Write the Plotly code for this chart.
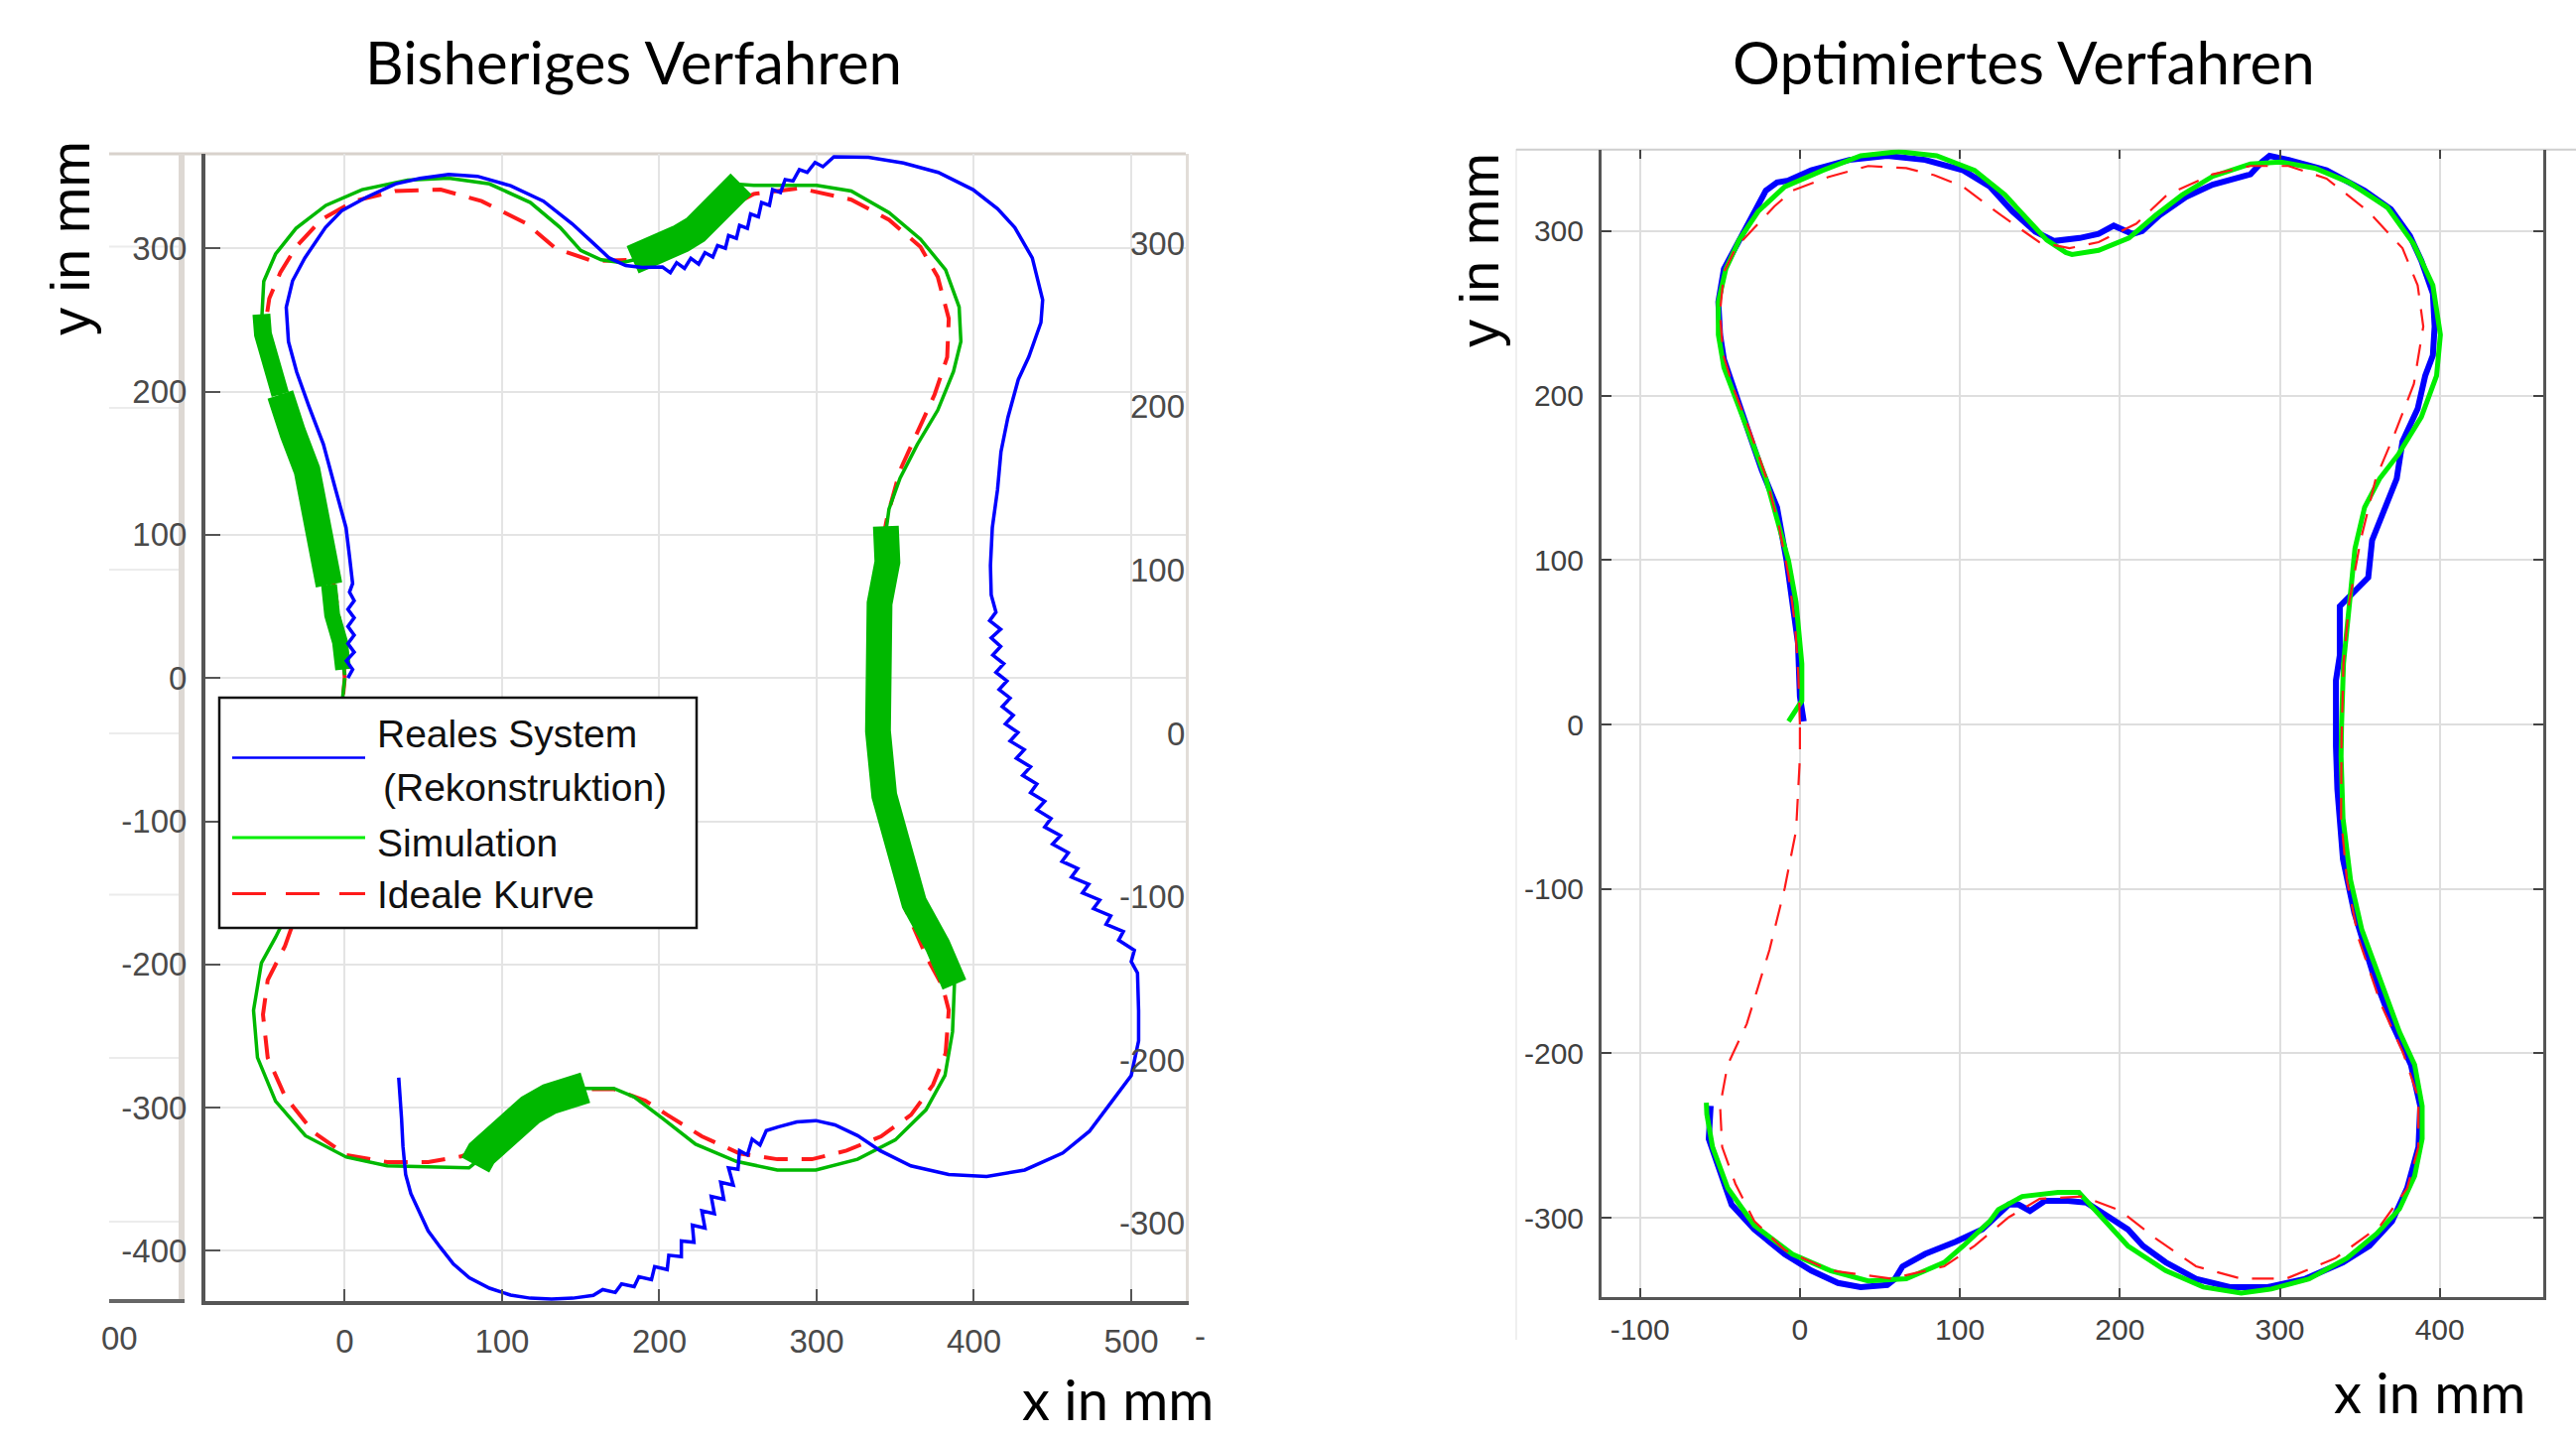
import plotly.graph_objects as go

W, H = 2596, 1450

# ---------------- data (mm) ----------------
# left panel: "Bisheriges Verfahren"
IDEAL_L = [(0,0),(-2,30),(-6,60),(-12,90),(-20,120),(-30,150),(-40,180),(-47,205),(-50,230),(-50,250),(-48,265),
           (-41,283),(-31,301),(-15,320),(6,333),(32,340),(61,341),(87,333),(116,317),(134,300),(158,291),(181,292),
           (200,297),(220,310),(240,326),(260,338),(289,342),(322,334),(346,320),(366,301),(377,280),(384,251),
           (383,224),(375,198),(364,171),(353,145),(345,113),(339,80),(336,40),(335,0),(336,-40),(340,-80),
           (346,-120),(356,-160),(370,-195),(380,-215),(384,-232),(382,-262),(374,-284),(360,-305),(341,-320),
           (319,-330),(297,-336),(275,-336),(251,-332),(227,-320),(205,-305),(191,-295),(171,-287),(152,-287),
           (130,-300),(100,-322),(74,-334),(53,-338),(27,-338),(1,-333),(-20,-317),(-38,-292),(-49,-265),
           (-52,-235),(-49,-211),(-38,-187),(-26,-150),(-16,-110),(-8,-70),(-3,-35),(0,0)]

SIM_L = [(0,2),(-3,25),(-8,44),(-10,65),(-14,92),(-18,118),(-24,145),(-33,171),(-41,198),(-50,224),(-53,246),
         (-52,262),(-51.5,277),(-44,296),(-31,314),(-12,330),(11,341),(40,347.6),(66,349),(92,345),(118,332),
         (137,314.5),(150,298.5),(163,292),(176,290),(184,292),(205,301),(223,313),(241,330),(247,345),(260,344),
         (278,344),(300,344),(322,340),(346,325),(366,306.5),(382,285),(390.6,259),(391.7,235),(387,214),(377,187),
         (364,163),(353,139.5),(346,118),(344,102),(345,81),(340,52),(338.6,25),(338.6,-1),(339,-37),(343,-82),
         (351,-121),(362,-157),(377,-187),(387.6,-214),(386.4,-247),(381.6,-277.5),(369.5,-301.5),(350,-322.5),
         (326,-336),(299.5,-343.5),(275,-343.5),(249,-337.5),(223,-325.5),(202,-307.5),(184,-292.5),(171,-286.5),
         (152,-286.5),(142,-288),(118,-301.5),(95,-322.5),(84,-337.5),(79,-342),(53,-341),(27,-340.6),(1,-334.5),
         (-25,-319.6),(-44,-295.5),(-55.5,-265),(-58,-232),(-53,-199),(-44,-181),(-30,-150),(-15,-100),(-5,-50),(0,0)]

# strongly oscillating stretches of the simulation (appear as thick bands)
SIM_L_BANDS = [
    [(-1,6),(-3,25),(-8,44),(-10,65)],
    [(-10,65),(-14,92),(-18,118),(-24,145),(-33,171),(-41,198)],
    [(-41,198),(-49,222),(-52,240),(-53,254)],
    [(183,292),(195,296),(205,301),(214,307),(223,313),(232,321),(241,331),(247,341),(252,345)],
    [(344,106),(345,81),(340,52),(338.6,25),(338.6,-1),(339,-37),(343,-82),(351,-121),(362,-157),(377,-187),(387.6,-214)],
    [(153,-286),(142,-288),(130,-294),(118,-301.5),(106,-311),(95,-322.5),(87,-332),(83,-340)],
]
SIM_L_BAND_WIDTHS = [16, 27, 18, 30, 26, 32]

REAL_L = [(2,0),(5,6),(1,12),(6,18),(2,24),(6,30),(2,36),(6,42),(2,48),(6,54),(3,60),(5,66),
          (3,85),(0.8,105),(-5.8,131.5),(-13.6,163.3),(-22.8,189.8),(-30.6,213.7),(-35.8,234.9),(-37.2,258.8),
          (-33.2,277.3),(-25.4,293.3),(-12.3,314.5),(-1.8,326.4),(13.8,335.7),(32.1,345),(47.8,348.9),(66.1,351.6),
          (84.4,350.3),(105.4,343.7),(126.3,333),(144.6,317.1),(157.7,303.9),(168.1,293.3),(178.6,288),(189,286.6),
          (202,287),(207,283),(211,290),(216,286),(220,293),(225,289),(229,297),(234,294),(237,302),(242,300),
          (244,309),(249,307),(251,316),(256,314),(258,324),(263,322),(265,332),(270,330),(272,341),(277,339),
          (280,348),(285,347),(289,355),(294,353),(299,360),(304,357),(311,364),
          (333,363.5),(355.2,359.6),(377.3,353),(399.4,341),(415,327.7),(426,314.5),(437.1,293.3),(443.7,264.1),
          (442.6,248.2),(434.9,224.3),(428.2,208.4),(421.6,181.9),(417.2,158),(415,131.5),(411.7,105),(410.5,78.4),
          (411,58),(414,46),(410,40),(417,34),(411,28),(417,22),(412,16),(419,10),(414,4),(421,-2),(416,-8),
          (423,-14),(418,-20),(425,-26),(420,-32),(428,-38),(423,-44),(432,-50),(427,-56),(436,-62),(431,-68),
          (440,-74),(436,-80),(445,-86),(440,-92),(449,-98),(445,-104),(455,-110),(450,-116),(460,-122),(456,-128),
          (466,-133),(462,-139),(473,-144),(469,-150),(480,-155),(476,-161),(487,-166),(484,-172),(495,-177),
          (492,-183),(502,-190),(500,-198),(504,-206),
          (504.7,-232.4),(504.7,-253.4),(500,-277.5),(487.8,-295.5),(473.4,-316.5),(456.5,-331.6),(432.3,-343.5),
          (408.1,-348.1),(384,-346.6),(359.9,-340.6),(340.6,-330.1),(326.1,-319.5),(311.6,-312),(299.5,-309),
          (287.4,-310),(275.4,-313.5),
          (268,-316),(264,-326),(259,-322),(256,-333),(251,-330),(250,-343),(244,-342),(247,-354),(239,-352),
          (241,-364),(233,-362),(235,-374),(227,-372),(229,-384),(221,-382),(222,-394),(214,-393),(214,-404),
          (206,-403),(205,-413),(197,-411),(195,-420),(187,-418),(184,-425),(176,-423),(172,-429),(164,-427),
          (158,-431),
          (145,-433),(131.5,-433.7),(118,-433),(105.4,-430.8),(92,-426),(79.2,-418.7),(69,-409),(60.9,-397.7),
          (53,-386),(47.8,-373.7),(42,-360),(38.7,-346.6),(37,-327),(36.1,-307.5),(34.3,-279)]

# right panel: "Optimiertes Verfahren"
IDEAL_R = [(0,0),(-1,30),(-3,60),(-7,90),(-13,120),(-21,150),(-31,178),(-41,203),(-48,225),(-50,250),(-47.5,275),
           (-40,290),(-28.5,302),(-16,315),(-4.8,324.6),(18,333),(42.7,339.6),(66.5,338.3),(84,334),(102,327),
           (125.8,309.6),(149.6,293.3),(168.5,289.6),(186.7,293.3),(210.4,304.6),(229.5,322),(258,334.6),
           (281.7,339.6),(305.4,339.6),(329.2,332),(355.3,312),(376.7,289.6),(386.2,267),(389.7,242),(383.8,207),
           (371.9,177),(360,149.5),(350.5,112),(343.4,74.4),(339.8,36.9),(338.6,-10),(338.3,-57),(341.9,-94.4),
           (349,-129.5),(363,-169.5),(377,-199.5),(386.6,-227),(386.6,-257),(379.6,-282),(363,-304.6),
           (334.8,-324.6),(304,-337),(275.9,-337),(247.6,-329.5),(221.6,-312),(200.4,-295.7),(176.8,-287),
           (150,-288.4),(130.6,-299.6),(109.2,-317),(90.2,-329.5),(57,-337),(19,-332),(-9.5,-319.6),(-28.5,-302),
           (-40.3,-279.4),(-48.6,-257),(-49.9,-232),(-45.2,-207),(-33.2,-182),(-19,-137),(-9.5,-99.5),
           (-2.4,-64.5),(0,-20),(0,0)]

SIM_R = [(-7.1,1.9),(1.2,14.4),(1.2,36.9),(-2.4,74.4),(-7.1,99.5),(-14.3,124.4),(-21.3,149.5),(-30.9,174.5),
         (-40.3,199.5),(-47.5,217),(-51,237),(-51,257),(-46.3,277),(-38,294.6),(-26.1,312),(-9.5,327),(14.3,337),
         (38,345.8),(61.7,348.3),(85.5,345.8),(109.2,337),(128.2,322),(142.4,307),(154.3,294.6),(166.2,287),
         (170.1,285.8),(186.7,288.3),(205.7,295.8),(222.3,309.6),(239,322),(258,333.3),(281.7,340.9),(300.7,342),
         (322,338.3),(343.4,329.6),(367.2,314.5),(383.8,292),(395.7,267),(400.4,237),(398,212),(388.5,187),
         (374.3,164.5),(362.4,149.5),(353,132),(347,107),(343.4,74.4),(339.8,36.9),(338.6,-0.6),(338.3,-19.4),
         (339.5,-57),(344.2,-94.4),(351.2,-124.5),(363.1,-157),(374.8,-187),(384.3,-207),(389,-232),(389,-252),
         (384.3,-274.6),(374.8,-294.6),(360.7,-309.6),(341.9,-324.6),(318.3,-337.1),(294.7,-343.3),(275.9,-345.8),
         (252.2,-342.1),(228.6,-332.1),(205.1,-317.1),(186.2,-297.1),(174.4,-284.6),(161.4,-284.6),(139,-287),
         (124,-295),(118.7,-302.1),(102.1,-317.1),(90.2,-327.1),(66.5,-337.1),(42.7,-338.4),(19,-332.1),
         (-4.7,-322.1),(-28.5,-304.6),(-45.1,-282),(-54.6,-257),(-58.2,-237),(-58.5,-230)]

REAL_R = [(2.4,1.9),(0,16.9),(-1.2,49.4),(-4.7,74.4),(-8.3,99.5),(-14.3,132),(-23.8,154.5),(-30.9,174.5),
          (-40.3,202),(-47.5,222),(-49.9,237),(-51,257),(-47.5,277),(-38,294.6),(-28.5,312),(-21.3,324.6),
          (-14.3,329.6),(-7.1,330.8),(7.1,337),(30.9,343.3),(54.6,345.8),(78.3,343.3),(102.1,337),(118.7,327.1),
          (132.9,312),(147.2,299.6),(159,294),(174.9,295.8),(186.7,298.3),(196.2,303.3),(208,298.3),(214,300),
          (224.7,309.6),(241.3,320.8),(258,328.3),(281.7,334.6),(288.8,342),(293.6,345.8),(305.5,343.3),
          (329.2,337),(352.9,324.6),(369.5,313.3),(381.4,297),(388.5,282),(395.7,262),(396.8,242),(395.7,224.5),
          (390.9,212),(386.2,192),(376.7,172),(373.1,149.5),(364.8,129.5),(357.7,112),(355.3,89.4),(345.8,79.4),
          (337.5,71.9),(337.5,41.9),(335.1,26.9),(335.1,-13.2),(336,-39.4),(339.5,-82),(346.6,-114.5),
          (358.4,-152),(370.2,-182),(382,-207),(387.8,-232),(386.7,-257),(379.6,-282),(370.2,-302.1),(356,-317.1),
          (339.5,-327.1),(316,-337.1),(292.4,-342.1),(268.8,-342.1),(247.6,-337.1),(228.7,-327.1),(214.5,-317.1),
          (205.1,-307.1),(193.3,-299.6),(179.2,-290.8),(167.4,-289.6),(153.2,-289.6),(143.8,-295.8),(136.7,-292),
          (130.6,-292),(114,-307),(97.3,-314.6),(78.3,-322),(64.1,-329.6),(59.4,-337.1),(54.6,-340.8),(38,-342.1),
          (23.8,-339.6),(7.1,-332.1),(-9.5,-322.1),(-28.5,-307.1),(-42.7,-292),(-52.2,-267),(-57,-252),(-55.8,-232)]

X_TICKS_L = [0, 100, 200, 300, 400, 500]
Y_TICKS_L = [-400, -300, -200, -100, 0, 100, 200, 300]
Y_TICKS_L2 = [-300, -200, -100, 0, 100, 200, 300]
X_TICKS_R = [-100, 0, 100, 200, 300, 400]
Y_TICKS_R = [-300, -200, -100, 0, 100, 200, 300]

LEGEND_NAMES = ["Reales System", "(Rekonstruktion)", "Simulation", "Ideale Kurve"]
TITLES = ["Bisheriges Verfahren", "Optimiertes Verfahren"]

BLUE = "#0000ff"
GREEN_L = "#00b800"
GREEN_R = "#00ee00"
RED = "#ff1a1a"


def xs(pts):
    return [p[0] for p in pts]


def ys(pts):
    return [p[1] for p in pts]


def lab(vals):
    return [str(v) for v in vals]   # plain hyphen-minus like the reference


def px(x):
    return x / W


def py(y):
    return 1 - y / H


fig = go.Figure()

# left panel traces
fig.add_trace(go.Scatter(x=xs(IDEAL_L), y=ys(IDEAL_L), mode="lines", xaxis="x", yaxis="y",
                         line=dict(color=RED, width=4, dash="24px,14px"), showlegend=False, hoverinfo="skip"))
fig.add_trace(go.Scatter(x=xs(SIM_L), y=ys(SIM_L), mode="lines", xaxis="x", yaxis="y",
                         line=dict(color=GREEN_L, width=3.5), showlegend=False, hoverinfo="skip"))
for band, wdt in zip(SIM_L_BANDS, SIM_L_BAND_WIDTHS):
    fig.add_trace(go.Scatter(x=xs(band), y=ys(band), mode="lines", xaxis="x", yaxis="y",
                             line=dict(color=GREEN_L, width=wdt), showlegend=False, hoverinfo="skip"))
fig.add_trace(go.Scatter(x=xs(REAL_L), y=ys(REAL_L), mode="lines", xaxis="x", yaxis="y",
                         line=dict(color=BLUE, width=3.5), showlegend=False, hoverinfo="skip"))
# invisible anchor so the secondary (right-hand) axis of the left panel exists
fig.add_trace(go.Scatter(x=[0], y=[0], mode="markers", xaxis="x", yaxis="y2",
                         marker=dict(opacity=0, size=1), showlegend=False, hoverinfo="skip"))

# right panel traces
fig.add_trace(go.Scatter(x=xs(REAL_R), y=ys(REAL_R), mode="lines", xaxis="x3", yaxis="y3",
                         line=dict(color=BLUE, width=6), showlegend=False, hoverinfo="skip"))
fig.add_trace(go.Scatter(x=xs(SIM_R), y=ys(SIM_R), mode="lines", xaxis="x3", yaxis="y3",
                         line=dict(color=GREEN_R, width=5), showlegend=False, hoverinfo="skip"))
fig.add_trace(go.Scatter(x=xs(IDEAL_R), y=ys(IDEAL_R), mode="lines", xaxis="x3", yaxis="y3",
                         line=dict(color=RED, width=2.2, dash="22px,14px"), showlegend=False, hoverinfo="skip"))
fig.add_trace(go.Scatter(x=[0], y=[0], mode="markers", xaxis="x4", yaxis="y3",
                         marker=dict(opacity=0, size=1), showlegend=False, hoverinfo="skip"))

tickfont_l = dict(family="Liberation Sans, Arial, sans-serif", size=33, color="#4a4a4a")
tickfont_r = dict(family="Liberation Sans, Arial, sans-serif", size=30, color="#404040")

fig.update_layout(
    width=W, height=H, autosize=False,
    margin=dict(l=0, r=0, t=0, b=0, pad=0),
    paper_bgcolor="white", plot_bgcolor="white",
    xaxis=dict(domain=[px(207), px(1195)], range=[-88.6, 534.7], anchor="y",
               tickvals=X_TICKS_L, ticktext=lab(X_TICKS_L), ticks="inside", ticklen=12, tickwidth=2,
               tickcolor="#555", showline=True, linecolor="#555", linewidth=4, mirror=False,
               showgrid=True, gridcolor="#e4e4e4", gridwidth=2, zeroline=False,
               tickfont=tickfont_l, ticklabelstandoff=8),
    yaxis=dict(domain=[py(1311), py(155)], range=[-435, 366], anchor="x",
               tickvals=Y_TICKS_L, ticktext=lab(Y_TICKS_L), ticks="inside", ticklen=15, tickwidth=2,
               tickcolor="#555", showline=True, linecolor="#555", linewidth=4,
               showgrid=True, gridcolor="#e4e4e4", gridwidth=2, zeroline=False,
               tickfont=tickfont_l, ticklabelstandoff=8),
    yaxis2=dict(overlaying="y", side="right", anchor="x", range=[-347.7, 355],
                tickvals=Y_TICKS_L2, ticks="", showticklabels=False,
                showline=True, linecolor="#e2ddd8", linewidth=3,
                showgrid=False, zeroline=False),
    xaxis3=dict(domain=[px(1614), px(2563)], range=[-124, 464.7], anchor="y3",
                tickvals=X_TICKS_R, ticktext=lab(X_TICKS_R), ticks="inside", ticklen=9, tickwidth=2,
                tickcolor="#444", showline=True, linecolor="#555", linewidth=3, mirror=False,
                showgrid=True, gridcolor="#dedede", gridwidth=2, zeroline=False,
                tickfont=tickfont_r, ticklabelstandoff=4),
    xaxis4=dict(overlaying="x3", side="top", anchor="y3", range=[-124, 464.7],
                tickvals=X_TICKS_R, ticks="inside", ticklen=9, tickwidth=2, tickcolor="#444",
                showticklabels=False, showline=False, showgrid=False, zeroline=False),
    yaxis3=dict(domain=[py(1307), py(150.7)], range=[-348.2, 349.6], anchor="x3",
                tickvals=Y_TICKS_R, ticktext=lab(Y_TICKS_R), ticks="inside", ticklen=10, tickwidth=2,
                tickcolor="#444", showline=True, linecolor="#555", linewidth=3, mirror="ticks",
                showgrid=True, gridcolor="#dedede", gridwidth=2, zeroline=False,
                tickfont=tickfont_r, ticklabelstandoff=9),
)

shapes = []
# left panel: top border and residual strip of an underlying figure
shapes.append(dict(type="line", xref="paper", yref="paper", x0=px(110), x1=px(1195), y0=py(155), y1=py(155),
                   line=dict(color="#d8d2cc", width=3), layer="below"))
shapes.append(dict(type="line", xref="paper", yref="paper", x0=px(183), x1=px(183), y0=py(155), y1=py(1311),
                   line=dict(color="#ddd8d3", width=6), layer="below"))
for yy in [248.6, 411, 574, 739, 901.5, 1066, 1231]:
    shapes.append(dict(type="line", xref="paper", yref="paper", x0=px(110), x1=px(180), y0=py(yy), y1=py(yy),
                       line=dict(color="#ececec", width=2), layer="below"))
shapes.append(dict(type="line", xref="paper", yref="paper", x0=px(110), x1=px(186), y0=py(1311), y1=py(1311),
                   line=dict(color="#666", width=4), layer="below"))
# right panel: outer frame remnants and top border
shapes.append(dict(type="line", xref="paper", yref="paper", x0=px(1528), x1=px(1528), y0=py(150), y1=py(1350),
                   line=dict(color="#efefef", width=2), layer="below"))
shapes.append(dict(type="line", xref="paper", yref="paper", x0=px(1528), x1=px(2596), y0=py(150.7), y1=py(150.7),
                   line=dict(color="#cfcfcf", width=2), layer="below"))

# legend box (left panel)
shapes.append(dict(type="rect", xref="paper", yref="paper", x0=px(221), x1=px(702), y0=py(935), y1=py(703),
                   fillcolor="white", line=dict(color="#111", width=2.5), layer="above"))
shapes.append(dict(type="line", xref="paper", yref="paper", x0=px(234), x1=px(368), y0=py(763.5), y1=py(763.5),
                   line=dict(color=BLUE, width=2.5), layer="above"))
shapes.append(dict(type="line", xref="paper", yref="paper", x0=px(234), x1=px(368), y0=py(844), y1=py(844),
                   line=dict(color="#00ee00", width=3), layer="above"))
shapes.append(dict(type="line", xref="paper", yref="paper", x0=px(234), x1=px(368), y0=py(900.5), y1=py(900.5),
                   line=dict(color=RED, width=3, dash="34px,20px"), layer="above"))
fig.update_layout(shapes=shapes)

ann = []
# right-hand tick labels of the left panel (second, overlaid scale)
for v in Y_TICKS_L2:
    ann.append(dict(text=str(v), x=px(1196), y=v, xref="paper", yref="y2",
                    xanchor="right", yanchor="middle", showarrow=False, font=tickfont_l))

legfont = dict(family="Liberation Sans, Arial, sans-serif", size=39, color="#111")
ann.append(dict(text=LEGEND_NAMES[0], x=px(378), y=py(739), xref="paper", yref="paper",
                xanchor="left", yanchor="middle", showarrow=False, font=legfont))
ann.append(dict(text=LEGEND_NAMES[1], x=px(384), y=py(793), xref="paper", yref="paper",
                xanchor="left", yanchor="middle", showarrow=False, font=legfont))
ann.append(dict(text=LEGEND_NAMES[2], x=px(378), y=py(849), xref="paper", yref="paper",
                xanchor="left", yanchor="middle", showarrow=False, font=legfont))
ann.append(dict(text=LEGEND_NAMES[3], x=px(378), y=py(902), xref="paper", yref="paper",
                xanchor="left", yanchor="middle", showarrow=False, font=legfont))

titlefont = dict(family="Lato, sans-serif", size=60, color="black")
ann.append(dict(text=TITLES[0], x=px(638), y=py(62), xref="paper", yref="paper",
                xanchor="center", yanchor="middle", showarrow=False, font=titlefont))
ann.append(dict(text=TITLES[1], x=px(2040), y=py(62), xref="paper", yref="paper",
                xanchor="center", yanchor="middle", showarrow=False, font=titlefont))

labfont = dict(family="Lato, sans-serif", size=56, color="black")
ann.append(dict(text="x in mm", x=px(1126), y=py(1409), xref="paper", yref="paper",
                xanchor="center", yanchor="middle", showarrow=False, font=labfont))
ann.append(dict(text="x in mm", x=px(2448), y=py(1402), xref="paper", yref="paper",
                xanchor="center", yanchor="middle", showarrow=False, font=labfont))
yfont = dict(family="Liberation Sans, Arial, sans-serif", size=56, color="black")
ann.append(dict(text="y in mm", x=px(70), y=py(240), xref="paper", yref="paper", textangle=-90,
                xanchor="center", yanchor="middle", showarrow=False, font=yfont))
ann.append(dict(text="y in mm", x=px(1491), y=py(252), xref="paper", yref="paper", textangle=-90,
                xanchor="center", yanchor="middle", showarrow=False, font=yfont))
# clipped tick-label remnants of the underlying figure
ann.append(dict(text="00", x=px(120), y=py(1348), xref="paper", yref="paper",
                xanchor="center", yanchor="middle", showarrow=False, font=tickfont_l))
ann.append(dict(text="-", x=px(1209), y=py(1346), xref="paper", yref="paper",
                xanchor="center", yanchor="middle", showarrow=False, font=tickfont_l))
fig.update_layout(annotations=ann)

fig.write_html("out.html", config={"displayModeBar": False},
               post_script="document.body.style.margin='0px';document.body.style.overflow='hidden';")
